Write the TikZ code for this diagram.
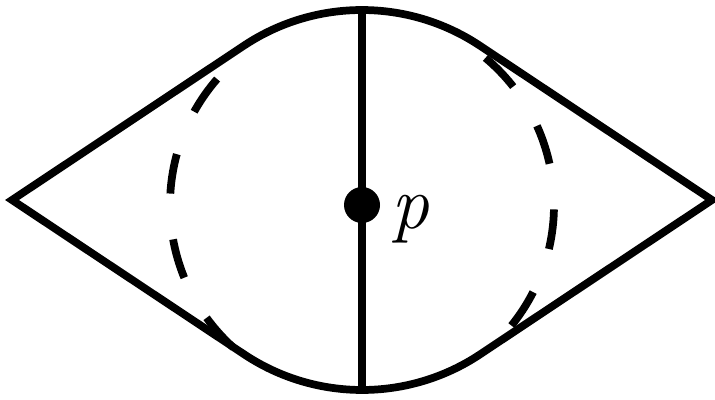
\documentclass[tikz,border=0pt]{standalone}
\begin{document}
\begin{tikzpicture}[x=0.02cm,y=0.02cm,line width=4.4pt,
    lens/.style={line join=miter},
    loopdash/.style={dash pattern=on 0.8cm off 0.92cm},
    vertex/.style={circle,fill,inner sep=0pt,minimum size=0.72cm}]
  \useasboundingbox (0,0) rectangle (715,399);
  \coordinate (ltip) at (12,199);
  \coordinate (rtip) at (712,199);
  \coordinate (top) at (362,389);
  \coordinate (bot) at (362,9);
  \draw[lens] (ltip) -- (244,353.4) arc[start angle=123.6,end angle=56.4,radius=213]
    -- (rtip) -- (480,44.6) arc[start angle=-56.4,end angle=-123.6,radius=213] -- cycle;
  \draw (top) -- (bot);
  \node[vertex] (v) at (362,194) {};
  \node[anchor=base west,inner sep=0pt,font=\fontsize{43}{50}\selectfont] (lbl) at (388,171) {\textit{p}};
  \draw[loopdash] (v.center) ++(139:192) arc[start angle=139,end angle=229,radius=192];
  \draw[loopdash] (v.center) ++(50:192) arc[start angle=50,end angle=-39,radius=192];
\end{tikzpicture}
\end{document}
